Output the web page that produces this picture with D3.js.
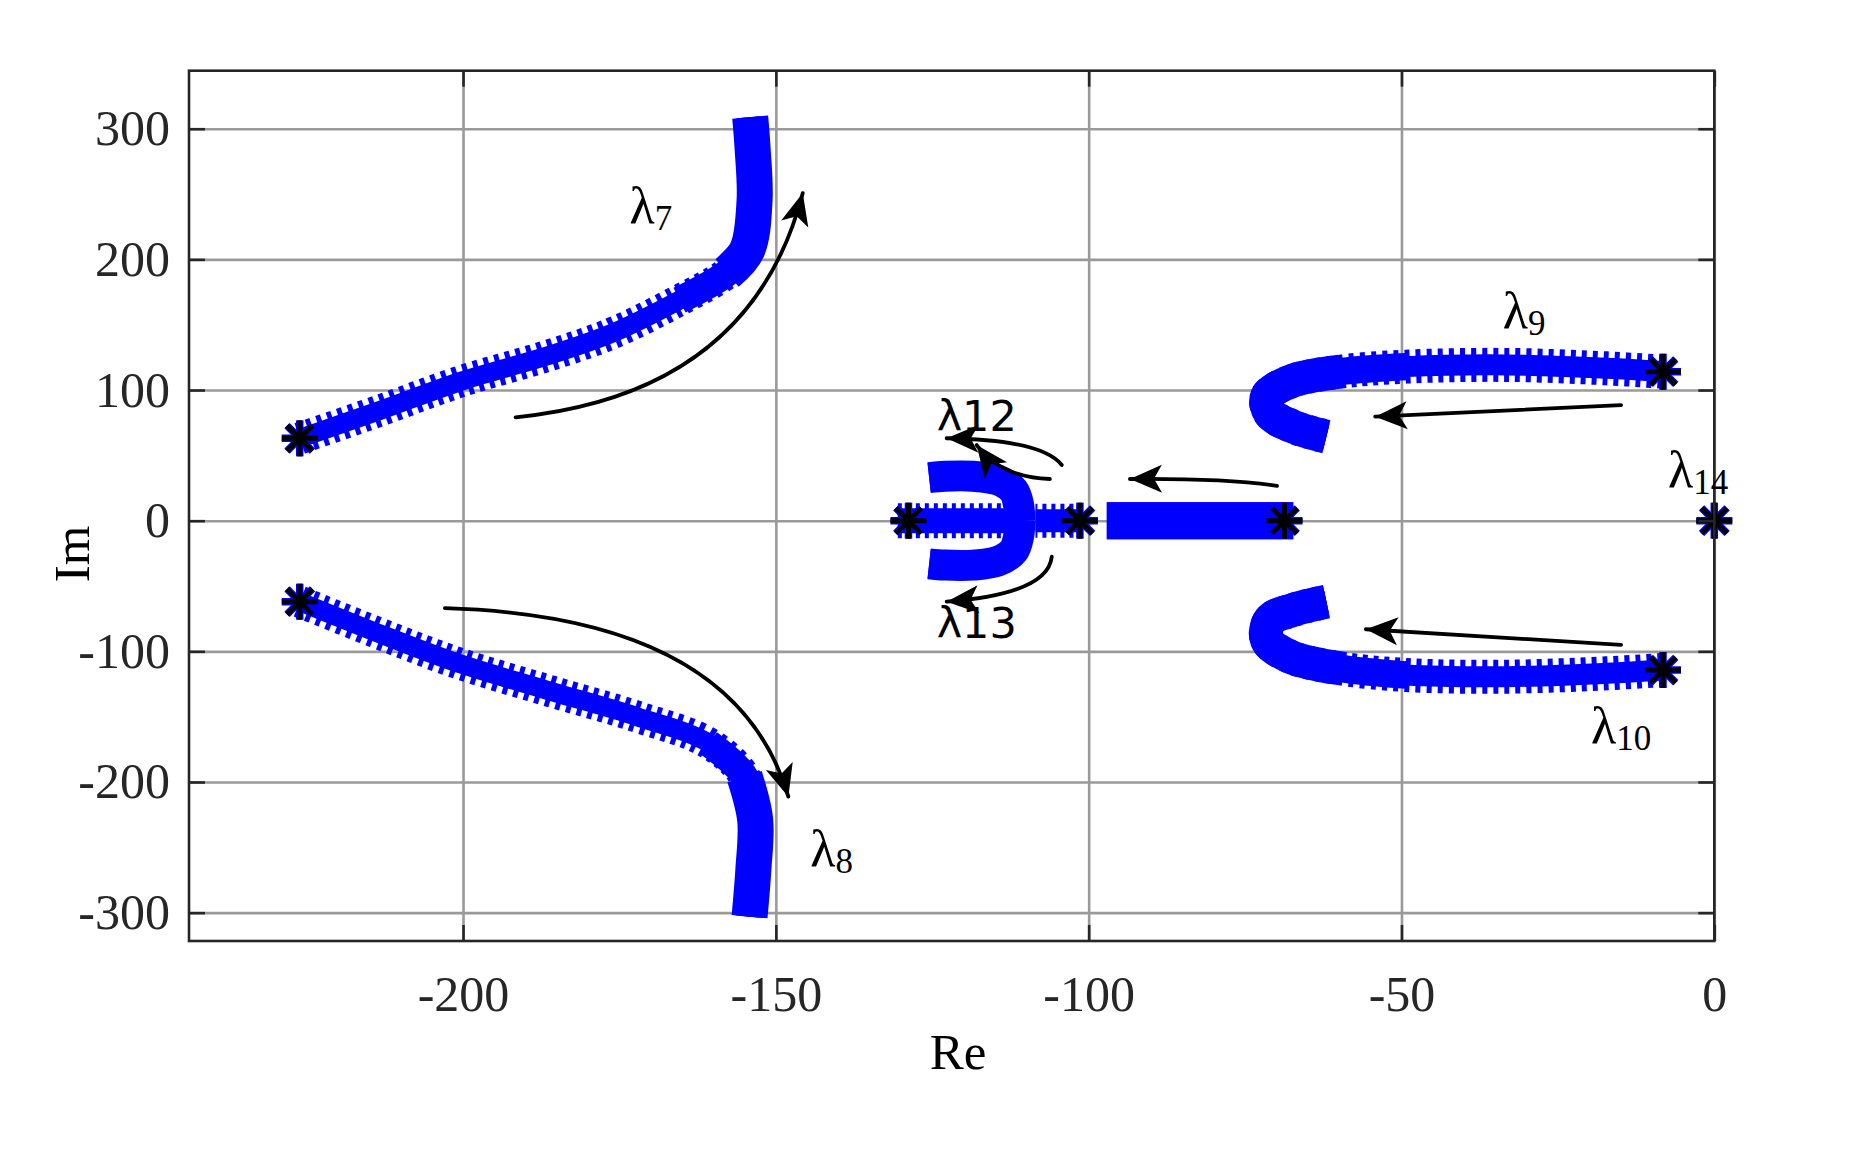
<!DOCTYPE html>
<html><head><meta charset="utf-8">
<script src="https://cdn.jsdelivr.net/npm/d3@7"></script>
<style>body{margin:0;background:#fff;} svg{display:block}</style>
</head><body>
<svg id="chart" width="1859" height="1155"></svg>
<script>
// ---------- data ----------
const xTicks = [-200, -150, -100, -50, 0];
const yTicks = [-300, -200, -100, 0, 100, 200, 300];
const xDomain = [-243.8, 0];
const yDomain = [-321.7, 344.4];

const lambda7 = [[-226.1,63.0],[-213.3,84.3],[-200.0,107.2],[-186.6,126.0],[-176.1,143.6],[-165.4,168.8],[-157.8,189.6],[-154.6,207.2],[-153.4,245.5],[-153.7,283.7],[-154.1,308.9]];
const lambda8 = [[-226.1,-62.0],[-212.1,-88.8],[-200.7,-109.2],[-186.4,-130.0],[-172.2,-150.0],[-160.7,-170.4],[-155.0,-195.9],[-153.3,-229.1],[-153.6,-267.4],[-154.2,-303.1]];
const lambda9 = [[-8.2,114.0],[-17.2,116.6],[-33.2,119.2],[-49.2,117.9],[-59.8,114.0],[-67.8,106.4],[-71.5,94.9],[-71.0,82.2],[-67.3,71.9],[-62.0,64.3]];
const lambda10 = [[-8.2,-114.3],[-17.2,-116.8],[-33.2,-119.4],[-49.2,-118.1],[-59.8,-113.0],[-67.8,-104.1],[-71.5,-91.3],[-71.0,-76.0],[-67.3,-68.3],[-62.0,-62.0]];
const lambda12 = [[-111.0,0],[-111.2,12.0],[-112.0,23.0],[-114.5,31.0],[-118.5,34.0],[-123.0,34.0],[-125.5,33.0]];
const lambda13 = [[-111.0,0],[-111.2,-12.0],[-112.0,-23.0],[-114.5,-31.0],[-118.5,-34.0],[-123.0,-34.0],[-125.5,-33.0]];
const realA = [[-130.5,0],[-110.0,0]];
const realB = [[-101.0,0],[-108.5,0]];
const realC = [[-67.3,0],[-97.1,0]];

const poles = [[-226.1,63.0],[-226.1,-62.0],[-8.2,114.0],[-8.2,-114.3],[0,0],[-128.8,0],[-101.4,0],[-68.7,0]];

// arrows: [start, bend (quadratic control), tip]
const arrowPaths = [
  [[-191.6,79.1],[-154.0,97.2],[-145.7,250.7]],
  [[-202.9,-67.0],[-156.5,-73.3],[-148.0,-211.2]],
  [[-14.9,88.5],[-34.5,84.0],[-54.2,79.6]],
  [[-14.9,-95.1],[-35.3,-89.1],[-55.7,-83.1]],
  [[-69.9,26.6],[-78.0,32.5],[-93.4,31.9]],
  [[-104.3,42.6],[-107.5,62.0],[-122.7,63.1]],
  [[-106.2,31.9],[-114.0,33.0],[-117.9,57.9]],
  [[-105.9,-27.6],[-106.5,-56.0],[-122.7,-62.0]]
];

const serifLabels = [
  {main:"λ", sub:"7",  at:[-173.4,227.9]},
  {main:"λ", sub:"8",  at:[-144.5,-264.3]},
  {main:"λ", sub:"9",  at:[-33.8,147.5]},
  {main:"λ", sub:"10", at:[-19.7,-170.1]},
  {main:"λ", sub:"14", at:[-7.4,25.8]}
];
const sansLabels = [
  {text:"λ12", at:[-124.3,68.7]},
  {text:"λ13", at:[-124.3,-89.8]}
];

// ---------- styles ----------
const branchList = [
  {pts:lambda7,  teeth:32, core:19, dash:"5 6", thick:36, thickFrom:6},
  {pts:lambda8,  teeth:32, core:19, dash:"5 6", thick:36, thickFrom:6},
  {pts:lambda9,  teeth:34, core:21, dash:"5 6", thick:34, thickFrom:4},
  {pts:lambda10, teeth:34, core:21, dash:"5 6", thick:34, thickFrom:4},
  {pts:realA,    teeth:35, core:25, dash:"4 5"},
  {pts:realB,    teeth:34, core:23, dash:"4 5"},
  {pts:realC,    teeth:37, core:37, dash:null},
  {pts:lambda12, teeth:31, core:29, dash:null},
  {pts:lambda13, teeth:31, core:29, dash:null}
];

const L = 189, R = 1714.3, T = 70.7, B = 941;
const BLUE = "#0000ff";
const svg = d3.select("#chart");
const x = d3.scaleLinear().domain(xDomain).range([L, R]);
const y = d3.scaleLinear().domain(yDomain).range([B, T]);
const fmt = d => String(d);

// grid
const grid = svg.append("g");
grid.append("g").attr("transform", `translate(0,${B})`)
  .call(d3.axisBottom(x).tickValues(xTicks).tickSize(-(B - T)).tickFormat(""))
  .call(g => g.select(".domain").remove())
  .selectAll("line").attr("stroke", "#9a9a9a").attr("stroke-width", 2.6);
grid.append("g").attr("transform", `translate(${L},0)`)
  .call(d3.axisLeft(y).tickValues(yTicks).tickSize(-(R - L)).tickFormat(""))
  .call(g => g.select(".domain").remove())
  .selectAll("line").attr("stroke", "#9a9a9a").attr("stroke-width", 2.6);

// branches
const line = d3.line().x(d => x(d[0])).y(d => y(d[1])).curve(d3.curveCatmullRom);
const bl = svg.append("g").attr("fill", "none").attr("stroke", BLUE);
branchList.forEach(b => {
  const p = bl.append("path").attr("d", line(b.pts)).attr("stroke-width", b.teeth).attr("stroke-linejoin", "round");
  if (b.dash) p.attr("stroke-dasharray", b.dash);
  bl.append("path").attr("d", line(b.pts)).attr("stroke-width", b.core).attr("stroke-linejoin", "round");
  if (b.thickFrom != null) {
    bl.append("path").attr("d", line(b.pts.slice(b.thickFrom - 1))).attr("stroke-width", (b.core + b.thick) / 2).attr("stroke-linejoin", "round");
    bl.append("path").attr("d", line(b.pts.slice(b.thickFrom))).attr("stroke-width", b.thick).attr("stroke-linejoin", "round");
  }
});

// poles (asterisks)
const starR = 18;
const star = svg.append("g");
poles.forEach(p => {
  const cx = x(p[0]), cy = y(p[1]);
  [[7.5, BLUE], [5, "#000"]].forEach(([w, c]) => {
    for (let k = 0; k < 4; k++) {
      const a = k * Math.PI / 4;
      star.append("line")
        .attr("x1", cx - starR * Math.cos(a)).attr("y1", cy - starR * Math.sin(a))
        .attr("x2", cx + starR * Math.cos(a)).attr("y2", cy + starR * Math.sin(a))
        .attr("stroke", c).attr("stroke-width", w);
    }
  });
});

// arrows
const defs = svg.append("defs");
defs.append("marker").attr("id", "ah").attr("markerUnits", "userSpaceOnUse")
  .attr("viewBox", "-34 -16 36 32").attr("refX", 0).attr("refY", 0)
  .attr("markerWidth", 36).attr("markerHeight", 32).attr("orient", "auto")
  .append("path").attr("d", "M0,0 L-32,-14 L-24,0 L-32,14 Z").attr("fill", "#000");
const arrowD = d => {
  const p = d3.path();
  p.moveTo(x(d[0][0]), y(d[0][1]));
  p.quadraticCurveTo(x(d[1][0]), y(d[1][1]), x(d[2][0]), y(d[2][1]));
  return p.toString();
};
svg.append("g").selectAll("path").data(arrowPaths).join("path")
  .attr("d", arrowD).attr("fill", "none").attr("stroke", "#000")
  .attr("stroke-width", 3.8).attr("stroke-linecap", "round").attr("marker-end", "url(#ah)");

// box + ticks
const tk = 16;
const axStyle = g => {
  g.select(".domain").remove();
  g.selectAll(".tick line").attr("stroke", "#262626").attr("stroke-width", 2.6);
  g.selectAll("text").attr("font-family", "Liberation Serif, Times New Roman, serif")
    .attr("font-size", 50).attr("fill", "#262626");
};
svg.append("g").attr("transform", `translate(0,${B})`)
  .call(d3.axisBottom(x).tickValues(xTicks).tickSize(-tk).tickPadding(34).tickFormat(fmt)).call(axStyle);
svg.append("g").attr("transform", `translate(0,${T})`)
  .call(d3.axisTop(x).tickValues(xTicks).tickSize(-tk).tickFormat("")).call(axStyle);
svg.append("g").attr("transform", `translate(${L},0)`)
  .call(d3.axisLeft(y).tickValues(yTicks).tickSize(-tk).tickPadding(19).tickFormat(fmt)).call(axStyle);
svg.append("g").attr("transform", `translate(${R},0)`)
  .call(d3.axisRight(y).tickValues(yTicks).tickSize(-tk).tickFormat("")).call(axStyle);
svg.append("rect").attr("x", L).attr("y", T).attr("width", R - L).attr("height", B - T)
  .attr("fill", "none").attr("stroke", "#262626").attr("stroke-width", 2.6);

// axis labels
svg.append("text").attr("x", 958).attr("y", 1069).attr("text-anchor", "middle")
  .attr("font-family", "Liberation Serif, serif").attr("font-size", 51).attr("fill", "#000").text("Re");
svg.append("text").attr("transform", "translate(89,554) rotate(-90)").attr("text-anchor", "middle")
  .attr("font-family", "Liberation Serif, serif").attr("font-size", 51).attr("fill", "#000").text("Im");

// eigenvalue labels
serifLabels.forEach(l => {
  const t = svg.append("text").attr("x", x(l.at[0])).attr("y", y(l.at[1]))
    .attr("font-family", "Liberation Serif, serif").attr("font-size", 52).attr("fill", "#000");
  t.append("tspan").text(l.main);
  t.append("tspan").attr("font-size", 35).attr("dy", 7).text(l.sub);
});
sansLabels.forEach(l => {
  svg.append("text").attr("x", x(l.at[0])).attr("y", y(l.at[1]))
    .attr("font-family", "DejaVu Sans, sans-serif").attr("font-size", 43).attr("fill", "#000").text(l.text);
});
</script>
</body></html>
